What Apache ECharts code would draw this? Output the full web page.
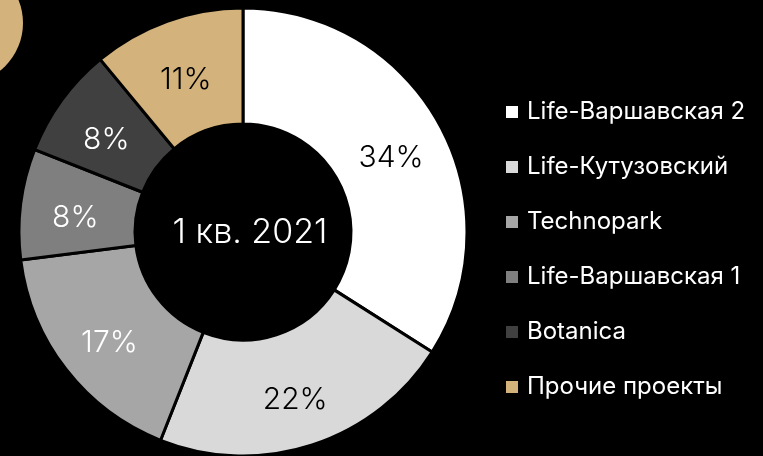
<!DOCTYPE html>
<html lang="ru">
<head>
    <meta charset="UTF-8">
    <title>Доли проектов</title>
    <script src="https://cdn.jsdelivr.net/npm/echarts@6/dist/echarts.min.js"></script>
    <style>
        html, body { margin: 0; padding: 0; background: #000; }
    </style>
</head>
<body>
<div id="main" style="width: 763px;height:456px;"></div>
<script>
    // данные
    var names = ['Life-Варшавская 2', 'Life-Кутузовский', 'Technopark', 'Life-Варшавская 1', 'Botanica', 'Прочие проекты'];
    var values = [34, 22, 17, 8, 8, 11];
    var colors = ['#ffffff', '#d9d9d9', '#a6a6a6', '#7f7f7f', '#404040', '#d3b37b'];
    var labelColors = ['#000', '#000', '#fff', '#fff', '#fff', '#000'];
    var centerText = '1 кв. 2021';

    var font = 'Inter, "Noto Sans", sans-serif';
    var pieData = [];
    for (var i = 0; i < names.length; i++) {
        pieData.push({
            name: names[i],
            value: values[i],
            itemStyle: {color: colors[i]},
            label: {rich: {p: {color: labelColors[i]}}}
        });
    }

    var myChart = echarts.init(document.getElementById('main'));
    var option = {
        backgroundColor: '#000',
        animation: false,
        graphic: [
            {
                type: 'circle',
                shape: {cx: -38, cy: 23, r: 61},
                style: {fill: '#d3b37b'}
            },
            {
                type: 'text',
                x: 250,
                y: 233,
                style: {
                    text: centerText,
                    fill: '#fff',
                    font: '300 34px ' + font,
                    align: 'center',
                    verticalAlign: 'middle'
                }
            }
        ],
        legend: {
            orient: 'vertical',
            left: 504,
            top: 100,
            padding: 0,
            itemWidth: 14,
            itemHeight: 14,
            itemGap: 31,
            icon: 'rect',
            data: names,
            textStyle: {
                color: '#fff',
                fontSize: 24,
                fontWeight: 400,
                fontFamily: font,
                padding: [0, 0, 0, 3]
            }
        },
        series: [
            {
                type: 'pie',
                center: [243, 232],
                radius: [108, 224],
                startAngle: 90,
                clockwise: true,
                data: pieData,
                itemStyle: {
                    borderColor: '#000',
                    borderWidth: 3
                },
                label: {
                    show: true,
                    position: 'inside',
                    formatter: '{p|{c}%}',
                    rich: {
                        p: {
                            fontSize: 30,
                            fontWeight: 300,
                            fontFamily: font,
                            padding: [14, 0, 0, 0]
                        }
                    }
                },
                labelLine: {show: false},
                emphasis: {disabled: true}
            }
        ]
    };
    myChart.setOption(option);
</script>
</body>
</html>
